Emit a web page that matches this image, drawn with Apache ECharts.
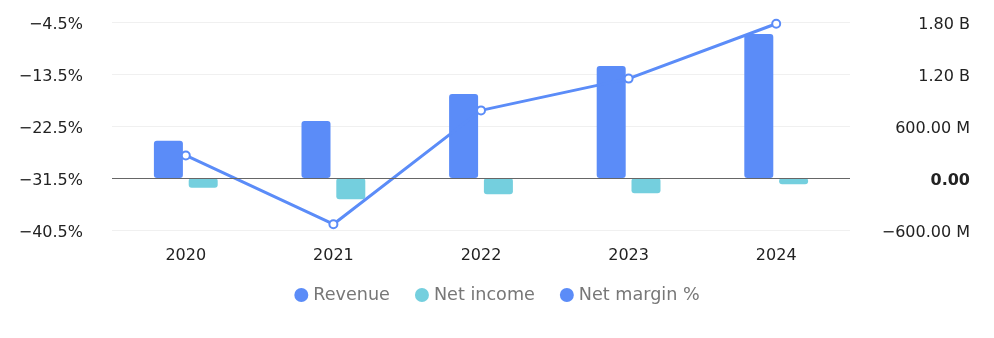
<!DOCTYPE html>
<html>
<head>
<meta charset="utf-8">
<script src="https://cdn.jsdelivr.net/npm/echarts@6/dist/echarts.min.js"></script>
<style>
  html, body { margin: 0; padding: 0; background: #fff; }
  #chart { width: 994px; height: 338px; }
</style>
</head>
<body>
<div id="chart"></div>
<script>
// Yearly figures
const years = ['2020', '2021', '2022', '2023', '2024'];
const revenue = [430e6, 658e6, 969e6, 1292e6, 1662e6];
const netIncome = [-112e6, -246e6, -188e6, -177e6, -73e6];
const netMargin = [-27.6, -39.5, -19.8, -14.3, -4.8];

const FONT = '"DejaVu Sans", "Noto Sans", sans-serif';
const MINUS = '\u2212';

function fmtPct(v) {
  const s = Math.abs(v).toFixed(1) + '%';
  return '{n|' + (v < 0 ? MINUS + s : s) + '}';
}
function fmtMoney(v) {
  if (v === 0) return '{b|0.00}';
  const a = Math.abs(v);
  let s;
  if (a >= 1e9) s = (a / 1e9).toFixed(2) + ' B';
  else if (a >= 1e6) s = (a / 1e6).toFixed(2) + ' M';
  else s = a.toFixed(2);
  return '{n|' + (v < 0 ? MINUS + s : s) + '}';
}

const labelRich = {
  n: { fontSize: 16, color: '#222', fontFamily: FONT },
  b: { fontWeight: 'bold', fontSize: 16, color: '#222', fontFamily: FONT }
};

const chart = echarts.init(document.getElementById('chart'));
chart.setOption({
  animation: false,
  textStyle: { fontFamily: FONT },
  grid: { left: 112, right: 144, top: 22, height: 208 },
  legend: {
    bottom: 29,
    left: 'center',
    icon: 'circle',
    itemWidth: 14,
    itemHeight: 14,
    itemGap: 25,
    textStyle: { fontSize: 17.6, color: '#777', fontFamily: FONT },
    data: ['Revenue', 'Net income', 'Net margin %']
  },
  xAxis: {
    type: 'category',
    data: years,
    axisLine: { show: false },
    axisTick: { show: false },
    axisLabel: { margin: 18, fontSize: 16, color: '#222', fontFamily: FONT }
  },
  yAxis: [
    {
      type: 'value',
      position: 'left',
      min: -40.5,
      max: -4.5,
      interval: 9,
      axisLine: { show: false },
      axisTick: { show: false },
      splitLine: { lineStyle: { color: '#f0f0f0' } },
      axisLabel: {
        margin: 29, fontSize: 16, color: '#222', fontFamily: FONT,
        padding: [6, 0, 0, 0],
        formatter: fmtPct,
        rich: labelRich
      }
    },
    {
      type: 'value',
      position: 'right',
      min: -600e6,
      max: 1800e6,
      interval: 600e6,
      axisLine: { show: false },
      axisTick: { show: false },
      splitLine: { show: false },
      axisLabel: {
        margin: 120, align: 'right', fontSize: 16, color: '#222', fontFamily: FONT,
        padding: [6, 0, 0, 0],
        formatter: fmtMoney,
        rich: labelRich
      }
    }
  ],
  series: [
    {
      name: 'Revenue',
      type: 'bar',
      yAxisIndex: 1,
      data: revenue,
      barWidth: 29,
      barGap: '20%',
      itemStyle: { color: '#5B8CF8', borderRadius: 3 },
      markLine: {
        silent: true,
        symbol: 'none',
        label: { show: false },
        lineStyle: { color: '#666', width: 1, type: 'solid' },
        data: [{ yAxis: 0 }]
      }
    },
    {
      name: 'Net income',
      type: 'bar',
      yAxisIndex: 1,
      data: netIncome,
      barWidth: 29,
      itemStyle: { color: '#74CFDE', borderRadius: 3 }
    },
    {
      name: 'Net margin %',
      type: 'line',
      yAxisIndex: 0,
      data: netMargin,
      symbol: 'emptyCircle',
      symbolSize: 8,
      lineStyle: { width: 3, color: '#5B8CF8' },
      itemStyle: { color: '#5B8CF8', borderWidth: 2 },
      z: 3
    }
  ]
});
</script>
</body>
</html>
